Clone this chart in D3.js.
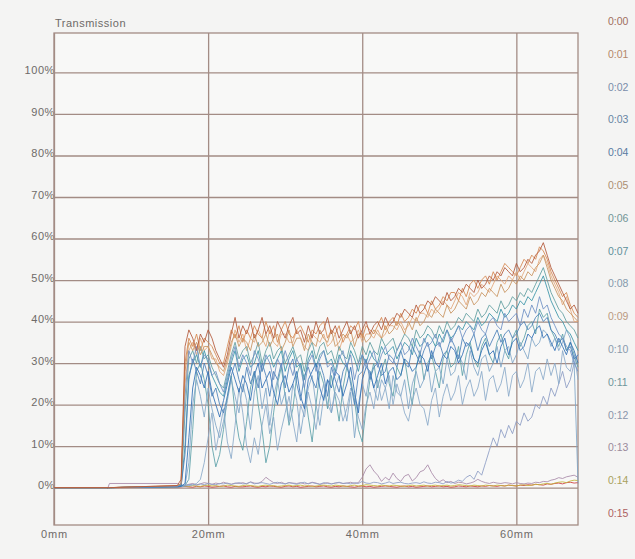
<!DOCTYPE html>
<html>
<head>
<meta charset="utf-8">
<script src="https://cdn.jsdelivr.net/npm/d3@7"></script>
<style>
  html, body { margin: 0; padding: 0; background: #f4f4f3; }
  svg { display: block; font-family: "Liberation Sans", Arial, sans-serif; }
</style>
</head>
<body>
<svg id="chart" width="635" height="559"></svg>
<script>
// sample positions along the strip (mm)
const positionsMm = [0, 7, 7.2, 16].concat(d3.range(16.5, 68.01, 0.5));

const seriesLabels = ['0:00','0:01','0:02','0:03','0:04','0:05','0:06','0:07',
                      '0:08','0:09','0:10','0:11','0:12','0:13','0:14','0:15'];
const seriesColors = ['#b3583a','#d6874f','#6d8fc4','#4a80b8','#2f6fb5','#c8935e','#5f9ea0','#3a94a8',
                      '#7fa6c8','#e3a77a','#8aa9c9','#5aa0a8','#8c9cc4','#a88aa8','#c2b43a','#cc3b3b'];

const yTicks = [0,10,20,30,40,50,60,70,80,90,100];
const xTicks = [0,20,40,60];

// transmission in %, one value per position
const s00 = [0,0,0,0.5, 2,
  34,38, 36,33, 37,35, 38,36, 33,31, 29,32, 37,41, 36,39, 37,40, 36,38, 41,37, 39,36, 40,38, 36,39,
  41,37, 38,35, 39,36, 40,37, 38,41, 37,39, 36,38, 40,37, 39,36, 38,40, 37,39, 40,38, 41,39, 40,42,
  41,43, 42,41, 44,42, 43,45, 44,46, 45,44, 47,45, 46,48, 47,49, 48,47, 50,48, 49,51, 50,52, 51,53,
  52,51, 54,52, 53,55, 54,56, 57,59, 56,53, 51,49, 47,45, 43,44, 42];
const s01 = [0,0,0,0.5, 1,
  30,36, 34,37, 33,36, 35,34, 32,30, 30,34, 38,36, 39,35, 38,36, 39,37, 36,40, 37,39, 35,38, 40,37,
  36,38, 39,37, 35,38, 37,39, 40,36, 38,37, 39,35, 37,39, 38,40, 36,39, 38,37, 39,41, 38,40, 41,39,
  42,40, 41,43, 42,44, 44,42, 45,43, 44,46, 45,47, 47,45, 48,46, 49,50, 48,50, 51,49, 52,50, 52,54,
  53,52, 51,53, 55,54, 56,55, 58,57, 55,52, 50,48, 46,47, 44,42, 41];
const s02 = [0,0,0,0.3, 1,
  22,33, 30,34, 29,32, 31,27, 28,25, 23,27, 31,34, 29,32, 30,27, 33,31, 28,32, 30,26, 31,29, 33,30,
  27,31, 29,24, 30,32, 28,31, 33,29, 30,27, 31,33, 29,32, 26,30, 32,29, 31,33, 29,32, 34,31, 30,33,
  35,32, 33,36, 34,32, 36,34, 35,37, 34,36, 38,35, 37,39, 36,38, 39,37, 40,38, 37,40, 41,39, 38,42,
  40,41, 42,39, 43,41, 44,42, 46,43, 44,41, 39,37, 36,34, 33,30, 28];
const s03 = [0,0,0,0.3, 0.5,
  8,26, 31,28, 25,30, 27,22, 24,20, 18,22, 27,30, 26,23, 29,25, 28,24, 30,27, 22,28, 26,30, 24,29,
  31,25, 21,27, 29,26, 24,30, 27,22, 29,26, 23,28, 30,25, 20,27, 28,31, 26,29, 30,27, 28,32, 31,29,
  33,30, 29,34, 32,30, 33,35, 31,34, 35,32, 33,36, 34,31, 36,34, 35,37, 33,36, 37,34, 36,38, 35,37,
  38,36, 37,39, 40,38, 39,41, 42,40, 41,38, 37,35, 36,33, 34,31, 32];
const s04 = [0,0,0,0.2, 0.3,
  1,12, 24,29, 27,24, 28,23, 20,17, 21,25, 29,26, 23,27, 25,21, 27,30, 24,26, 28,23, 20,25, 27,23,
  25,28, 22,19, 26,28, 30,24, 21,26, 24,28, 27,22, 25,29, 23,18, 26,29, 28,24, 27,30, 25,28, 29,26,
  27,31, 30,28, 29,32, 31,28, 33,30, 29,32, 31,34, 33,30, 32,35, 34,31, 30,33, 35,32, 33,30, 34,36,
  32,35, 36,33, 34,37, 36,38, 39,36, 37,35, 33,36, 34,32, 35,33, 30];
const s05 = [0,0,0,0.4, 1,
  28,35, 33,35, 32,34, 34,32, 30,29, 28,31, 35,37, 34,36, 35,33, 37,34, 35,37, 34,36, 37,33, 35,38,
  34,36, 36,33, 37,35, 34,38, 36,35, 38,34, 35,37, 36,38, 34,37, 37,35, 36,38, 37,36, 39,37, 38,40,
  39,37, 40,38, 41,39, 40,42, 41,43, 42,41, 44,42, 43,45, 44,43, 46,44, 45,47, 46,48, 47,46, 49,47,
  48,50, 49,51, 50,52, 51,53, 54,56, 53,50, 48,46, 45,43, 42,41, 40];
const s06 = [0,0,0,0.3, 0.5,
  18,31, 33,30, 34,31, 32,29, 27,25, 24,28, 32,35, 31,33, 34,30, 32,35, 30,33, 35,31, 33,34, 30,32,
  34,31, 32,28, 33,35, 31,34, 35,32, 33,30, 34,32, 31,35, 33,30, 34,32, 35,33, 32,36, 34,35, 36,33,
  35,37, 36,34, 38,36, 37,39, 38,36, 39,37, 40,38, 39,41, 40,42, 41,40, 43,41, 42,44, 43,42, 45,43,
  44,46, 45,47, 46,48, 47,49, 51,53, 50,47, 45,43, 42,40, 39,38, 36];
const s07 = [0,0,0,0.3, 0.4,
  10,27, 30,32, 29,33, 30,27, 25,23, 22,26, 30,33, 28,31, 32,29, 30,33, 28,31, 32,29, 31,33, 28,31,
  33,29, 30,26, 31,33, 29,32, 33,30, 31,28, 32,30, 29,33, 31,28, 32,30, 33,31, 30,34, 32,33, 34,31,
  33,35, 34,32, 36,34, 35,37, 36,34, 37,35, 38,36, 37,39, 38,40, 39,38, 41,39, 40,42, 41,40, 43,41,
  42,44, 43,45, 44,46, 45,47, 49,51, 48,45, 43,41, 40,38, 37,35, 33];
const s08 = [0,0,0,0.2, 0.3,
  0.5,6, 20,26, 22,17, 24,19, 15,12, 16,21, 26,22, 18,25, 21,14, 23,27, 19,24, 15,22, 26,20, 23,16,
  25,21, 13,19, 24,27, 20,15, 22,26, 18,24, 27,21, 16,23, 12,20, 25,22, 28,24, 21,26, 24,19, 27,23,
  22,26, 19,25, 28,24, 26,30, 23,28, 29,25, 31,27, 28,32, 30,26, 33,29, 27,31, 32,28, 30,34, 29,33,
  34,30, 32,35, 33,31, 36,34, 35,38, 37,34, 36,33, 35,38, 36,30, 1];
const s09 = [0,0,0,0.4, 0.8,
  25,33, 35,32, 36,33, 34,31, 31,28, 27,30, 34,38, 35,37, 33,36, 35,38, 36,34, 38,35, 34,37, 37,35,
  35,38, 36,34, 33,37, 36,35, 37,34, 35,37, 33,36, 37,35, 36,38, 35,37, 37,36, 38,36, 37,39, 39,38,
  40,38, 39,41, 40,42, 42,41, 43,42, 43,45, 44,43, 45,47, 46,44, 47,46, 47,49, 48,47, 49,51, 50,49,
  51,50, 52,50, 52,54, 53,52, 55,56, 54,51, 49,47, 44,46, 43,40, 40];
const s10 = [0,0,0,0.2, 0.3,
  0.4,0.5, 0.6,1, 2,6, 12,18, 9,14, 19,11, 7,15, 24,18, 10,6, 12,8, 15,20, 13,17, 9,14, 18,22,
  16,11, 20,17, 23,19, 14,21, 25,20, 18,23, 21,16, 19,24, 22,17, 14,20, 23,19, 26,21, 24,27, 20,25,
  22,18, 16,21, 24,20, 19,15, 21,24, 17,22, 25,21, 23,27, 20,24, 26,22, 24,28, 21,26, 27,23, 25,29,
  22,27, 28,24, 26,30, 23,28, 29,26, 31,27, 30,25, 33,29, 28,32, 26];
const s11 = [0,0,0,0.2, 0.3,
  0.5,2, 14,28, 30,26, 20,10, 5,8, 14,22, 27,18, 12,9, 16,24, 28,20, 14,6, 10,18, 25,29, 22,15,
  19,27, 30,24, 17,11, 20,28, 25,19, 27,22, 16,24, 29,26, 21,14, 11,19, 26,30, 24,28, 31,25, 22,29,
  27,31, 25,20, 29,33, 26,30, 32,28, 24,31, 33,29, 30,34, 27,32, 35,31, 29,34, 36,32, 30,35, 37,33,
  31,36, 38,34, 36,39, 40,37, 43,41, 42,38, 36,34, 37,33, 35,32, 29];
const s12 = [0,0,0,0.3, 0.5,
  0.6,0.7, 0.8,0.6, 0.9,0.7, 1,0.8, 0.7,1, 0.9,1.1, 0.8,1, 1.2,0.9, 1,1.3, 0.9,1.1, 1.2,1, 0.8,1.1,
  1.3,1, 0.9,1.2, 1,0.8, 1.1,1.3, 0.9,1.2, 1,0.8, 1.2,1, 0.9,1.1, 1.3,1, 1.1,0.9, 1.2,1, 1.5,1.1,
  1,1.3, 1.2,0.9, 1.1,1.4, 1,1.2, 1.3,1, 0.9,1.1, 1.2,1, 1.4,1.1, 1,1.3, 1.2,0.9, 1.5,1.1, 1.3,1.8,
  1.5,2.5, 3,2, 4,3, 6,9, 12,10, 14,12, 15,13, 16,15, 18,16, 17,20, 19,22, 20,24, 22,25, 28,24,
  26,30, 32];
const s13 = [0,0,1,1, 0.6,
  0.5,0.8, 1,0.7, 0.9,1.2, 1,0.8, 1.1,0.9, 1.3,1, 0.8,1.1, 1,1.2, 0.9,1.4, 1.1,1, 1.5,2.5, 1.8,1.2,
  1,1.3, 0.9,1.2, 1.1,1, 1.2,0.9, 1,1.3, 1.1,0.8, 1,1.2, 0.9,1.1, 1.2,1, 1.1,1.3, 1,1.2, 2.5,4.5,
  5.5,4, 3,1.5, 2.5,1.8, 3.5,2.2, 1.5,2.8, 3.2,1.6, 2.4,3.8, 4.2,5.5, 3.6,2.2, 1.4,1.9, 1.2,1.5,
  1,1.3, 1.2,0.9, 1.1,1.4, 2,1.5, 1.2,1, 1.3,1.1, 1,1.2, 1.1,0.9, 1.2,1, 0.9,1.1, 1,1.3, 1.2,1.5,
  1.4,1.8, 2,2.4, 2.2,2.6, 2.8,3, 2.5];
const s14 = [0,0,0,0.2, 0.3,
  0.4,0.3, 0.5,0.4, 0.3,0.5, 0.6,0.4, 0.5,0.3, 0.4,0.6, 0.5,0.4, 0.3,0.5, 0.6,0.5, 0.4,0.3, 0.5,0.6,
  0.4,0.5, 0.3,0.4, 0.5,0.6, 0.4,0.5, 0.6,0.4, 0.5,0.3, 0.4,0.5, 0.6,0.5, 0.4,0.6, 0.5,0.4, 0.3,0.5,
  0.6,0.4, 0.5,0.7, 0.6,0.5, 0.4,0.6, 0.5,0.4, 0.6,0.5, 0.4,0.3, 0.5,0.6, 0.4,0.5, 0.6,0.4, 0.5,0.6,
  0.4,0.5, 0.6,0.4, 0.5,0.7, 0.6,0.5, 0.4,0.6, 0.5,0.4, 0.6,0.5, 0.4,0.6, 0.5,0.4, 0.6,0.5, 0.4,0.6,
  0.7,0.5, 0.6,0.8, 0.7,0.9, 1,0.8, 1.1,1.3, 1.4,1.2, 1.6,1.8, 1.7];
const s15 = [0,0,0,0.1, 0.2,
  0.3,0.2, 0.1,0.3, 0.2,0.4, 0.3,0.1, 0.2,0.3, 0.4,0.2, 0.1,0.3, 0.2,0.2, 0.3,0.4, 0.2,0.1, 0.3,0.2,
  0.4,0.3, 0.2,0.1, 0.3,0.4, 0.2,0.3, 0.1,0.2, 0.3,0.4, 0.2,0.3, 0.4,0.2, 0.1,0.3, 0.2,0.4, 0.3,0.2,
  0.1,0.3, 0.4,0.2, 0.3,0.1, 0.2,0.3, 0.4,0.3, 0.2,0.1, 0.3,0.4, 0.2,0.3, 0.1,0.2, 0.3,0.4, 0.2,0.3,
  0.4,0.2, 0.3,0.1, 0.2,0.4, 0.3,0.2, 0.4,0.3, 0.2,0.4, 0.3,0.5, 0.4,0.3, 0.5,0.4, 0.6,0.5, 0.4,0.6,
  0.5,0.7, 0.6,0.8, 0.7,0.6, 0.9,0.8, 1,1.1, 0.9,1.2, 1.3,1.1, 1.2];

const seriesValues = [s00,s01,s02,s03,s04,s05,s06,s07,s08,s09,s10,s11,s12,s13,s14,s15];

const svg = d3.select('#chart');
const W = 635, H = 559;
const plotL = 54, plotR = 578, plotT = 33, plotB = 525;
const gridCol = '#a38c85';
const textCol = '#6e6a68';

svg.append('rect').attr('width', W).attr('height', H).attr('fill', '#f4f4f3');
svg.append('rect').attr('x', plotL).attr('y', plotT)
  .attr('width', plotR - plotL).attr('height', plotB - plotT).attr('fill', '#f8f8f7');

const x = d3.scaleLinear().domain([0, 68]).range([plotL, plotR]);
const y = d3.scaleLinear().domain([-9, 109.5]).range([plotB, plotT]);

// horizontal grid + % labels
const yAxis = d3.axisLeft(y).tickValues(yTicks).tickSize(-(plotR - plotL)).tickPadding(-1)
  .tickFormat(d => d + '%');
const gy = svg.append('g').attr('transform', 'translate(' + plotL + ',0)').call(yAxis);
gy.select('.domain').remove();
gy.selectAll('line').attr('stroke', gridCol).attr('stroke-width', 1.3);
gy.selectAll('text').attr('fill', textCol).attr('dy', '0.1em')
  .style('font-size', '11px').style('letter-spacing', '0.6px');

// vertical grid + mm labels
const xAxis = d3.axisBottom(x).tickValues(xTicks).tickSize(-(plotB - plotT)).tickPadding(5)
  .tickFormat(d => d + 'mm');
const gx = svg.append('g').attr('transform', 'translate(0,' + plotB + ')').call(xAxis);
gx.select('.domain').remove();
gx.selectAll('line').attr('stroke', gridCol).attr('stroke-width', 1.3);
gx.selectAll('text').attr('fill', textCol)
  .style('font-size', '11px').style('letter-spacing', '0.8px');

svg.append('rect').attr('x', plotL).attr('y', plotT)
  .attr('width', plotR - plotL).attr('height', plotB - plotT)
  .attr('fill', 'none').attr('stroke', gridCol).attr('stroke-width', 1.3);

svg.append('text').attr('x', plotL + 1).attr('y', plotT - 6)
  .attr('fill', textCol).style('font-size', '11px').style('letter-spacing', '0.5px')
  .text('Transmission');

// curves, last series first so 0:00 ends on top
const line = d3.line().x((d, i) => x(positionsMm[i])).y(d => y(d));
const curves = svg.append('g');
d3.range(seriesValues.length).reverse().forEach(k => {
  curves.append('path')
    .attr('d', line(seriesValues[k]))
    .attr('fill', 'none')
    .attr('stroke', seriesColors[k])
    .attr('stroke-width', 1)
    .attr('stroke-opacity', 0.85)
    .attr('stroke-linejoin', 'round');
});

// legend column on the right
const ly = d3.scalePoint().domain(seriesLabels).range([25, 517]);
svg.append('g').selectAll('text').data(seriesLabels).enter()
  .append('text')
  .attr('x', 608)
  .attr('y', d => ly(d))
  .attr('fill', (d, i) => d3.interpolateRgb(seriesColors[i], '#8a8a8a')(0.45))
  .style('font-size', '10.5px')
  .text(d => d);
</script>
</body>
</html>
